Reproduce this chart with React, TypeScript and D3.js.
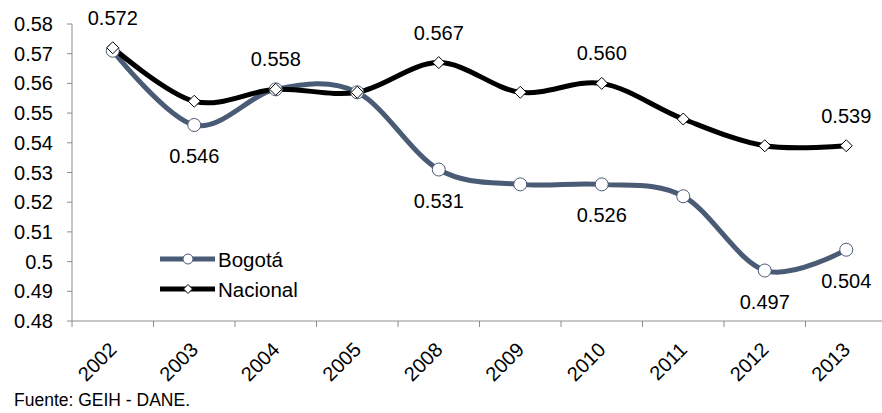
import React from 'react'
import * as d3 from 'd3'

const years = ['2002', '2003', '2004', '2005', '2008', '2009', '2010', '2011', '2012', '2013']
const bogota = [0.571, 0.546, 0.558, 0.557, 0.531, 0.526, 0.526, 0.522, 0.497, 0.504]
const nacional = [0.572, 0.554, 0.558, 0.557, 0.567, 0.557, 0.56, 0.548, 0.539, 0.539]
const yTicks = [0.48, 0.49, 0.5, 0.51, 0.52, 0.53, 0.54, 0.55, 0.56, 0.57, 0.58]
// which points carry a data label
const nacionalLabelYears = ['2002', '2004', '2008', '2010', '2013']
const bogotaLabelYears = ['2003', '2008', '2010', '2012', '2013']

const width = 882
const height = 413
const font = 'Liberation Sans, Arial, sans-serif'
const bogotaColor = '#4a5b75'
const axisColor = '#8c8c8c'

export default function App() {
  const x = d3.scaleBand().domain(years).range([72, 887]).padding(0)
  const y = d3.scaleLinear().domain([0.48, 0.58]).range([321, 24])
  const cx = (yr: string) => (x(yr) ?? 0) + x.bandwidth() / 2
  const fmt = d3.format('.3f')
  const tickFmt = d3.format('~g')

  const line = d3
    .line<number>()
    .x((_, i) => cx(years[i]))
    .y((d) => y(d))
    .curve(d3.curveCardinal.tension(0))

  const diamond = (px: number, py: number, r: number) =>
    `M${px},${py - r}L${px + r},${py}L${px},${py + r}L${px - r},${py}Z`

  return (
    <svg width={width} height={height} style={{ display: 'block', fontFamily: font }}>
      <style>{'body{margin:0}'}</style>
      <rect width={width} height={height} fill="#fff" />

      {/* y axis */}
      <line x1={72} x2={72} y1={y(0.58)} y2={y(0.48)} stroke={axisColor} />
      {yTicks.map((t) => (
        <g key={t}>
          <line x1={67} x2={72} y1={y(t)} y2={y(t)} stroke={axisColor} />
          <text x={53} y={y(t)} dy="0.35em" textAnchor="end" fontSize={20} fill="#000">
            {tickFmt(t)}
          </text>
        </g>
      ))}

      {/* x axis */}
      <line x1={72} x2={887} y1={321} y2={321} stroke={axisColor} />
      {years.map((yr) => (
        <line key={yr} x1={x(yr)} x2={x(yr)} y1={321} y2={327} stroke={axisColor} />
      ))}
      {years.map((yr) => (
        <text
          key={yr}
          transform={`translate(${cx(yr) + 5},${351}) rotate(-45)`}
          textAnchor="end"
          fontSize={20}
          fill="#000"
        >
          {yr}
        </text>
      ))}

      {/* series */}
      <path d={line(bogota) ?? ''} fill="none" stroke={bogotaColor} strokeWidth={5} />
      <path d={line(nacional) ?? ''} fill="none" stroke="#000" strokeWidth={5} />
      {bogota.map((v, i) => (
        <circle key={i} cx={cx(years[i])} cy={y(v)} r={6.5} fill="#fff" stroke={bogotaColor} strokeWidth={1} />
      ))}
      {nacional.map((v, i) => (
        <path key={i} d={diamond(cx(years[i]), y(v), 6)} fill="#fff" stroke="#000" strokeWidth={1} />
      ))}

      {/* data labels */}
      {nacionalLabelYears.map((yr) => {
        const v = nacional[years.indexOf(yr)]
        return (
          <text key={yr} x={cx(yr)} y={y(v) - 30} dy="0.35em" textAnchor="middle" fontSize={20} fill="#000">
            {fmt(v)}
          </text>
        )
      })}
      {bogotaLabelYears.map((yr) => {
        const v = bogota[years.indexOf(yr)]
        return (
          <text key={yr} x={cx(yr)} y={y(v) + 31} dy="0.35em" textAnchor="middle" fontSize={20} fill="#000">
            {fmt(v)}
          </text>
        )
      })}

      {/* legend */}
      <g>
        <line x1={160} x2={215} y1={259} y2={259} stroke={bogotaColor} strokeWidth={5} />
        <circle cx={188} cy={259} r={5} fill="#fff" stroke={bogotaColor} strokeWidth={1} />
        <text x={218} y={260} dy="0.35em" fontSize={20.5} fill="#000">
          Bogotá
        </text>
        <line x1={160} x2={215} y1={289} y2={289} stroke="#000" strokeWidth={5} />
        <path d={diamond(188, 289, 4.5)} fill="#fff" stroke="#000" strokeWidth={1} />
        <text x={218} y={290} dy="0.35em" fontSize={20.5} fill="#000">
          Nacional
        </text>
      </g>

      <text x={14} y={406} fontSize={17.5} fill="#000">
        Fuente: GEIH - DANE.
      </text>
    </svg>
  )
}
